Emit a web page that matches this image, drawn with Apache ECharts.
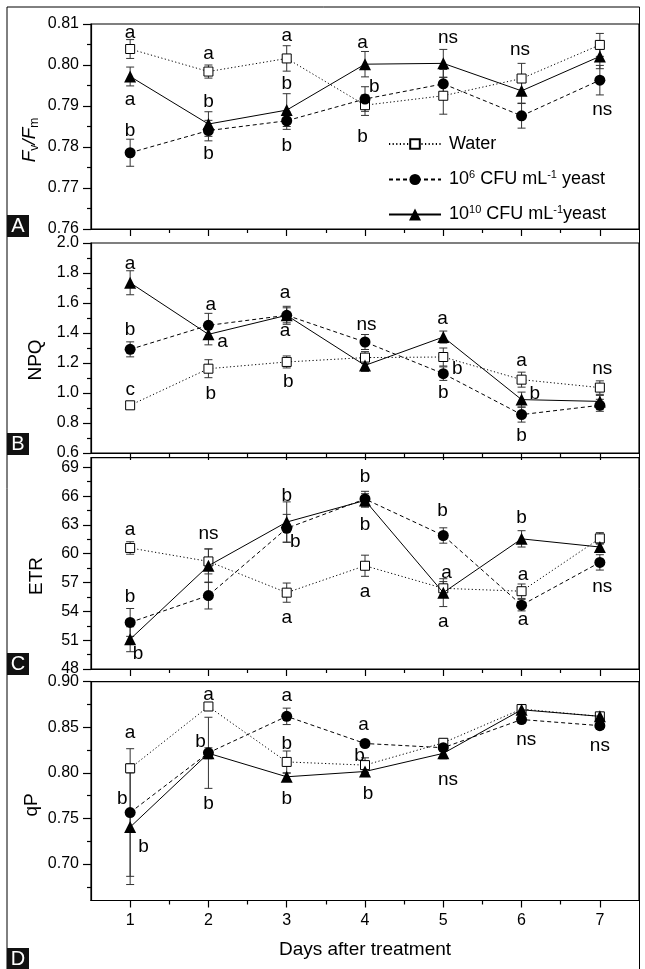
<!DOCTYPE html>
<html>
<head>
<meta charset="utf-8">
<script src="https://cdn.jsdelivr.net/npm/echarts@6/dist/echarts.min.js"></script>
<style>
html,body{margin:0;padding:0;background:#fff;}
#chart{width:645px;height:969px;}
</style>
</head>
<body>
<div id="chart"></div>
<script>
// ---------- data ----------
const days = [1, 2, 3, 4, 5, 6, 7];
const seriesNames = ['Water', '10^6 CFU mL^-1 yeast', '10^10 CFU mL^-1 yeast'];

// Panel A: Fv/Fm
const fvfmWater = [0.8039, 0.7984, 0.8016, 0.7902, 0.7925, 0.7967, 0.8049];
const fvfmWaterErr = [0.0023, 0.0016, 0.0031, 0.0025, 0.0045, 0.0037, 0.0028];
const fvfmY6 = [0.7786, 0.7840, 0.7864, 0.7917, 0.7954, 0.7876, 0.7963];
const fvfmY6Err = [0.0033, 0.0025, 0.0021, 0.0030, 0.0035, 0.0030, 0.0036];
const fvfmY10 = [0.7972, 0.7856, 0.7890, 0.8002, 0.8004, 0.7937, 0.8021];
const fvfmY10Err = [0.0023, 0.0030, 0.0040, 0.0031, 0.0034, 0.0030, 0.0030];

// Panel B: NPQ
const npqWater = [0.918, 1.162, 1.207, 1.236, 1.240, 1.089, 1.036];
const npqWaterErr = [0.02, 0.06, 0.04, 0.04, 0.06, 0.05, 0.045];
const npqY6 = [1.291, 1.451, 1.518, 1.340, 1.129, 0.856, 0.918];
const npqY6Err = [0.05, 0.08, 0.05, 0.05, 0.045, 0.05, 0.04];
const npqY10 = [1.735, 1.391, 1.518, 1.184, 1.373, 0.956, 0.944];
const npqY10Err = [0.08, 0.07, 0.06, 0.04, 0.04, 0.05, 0.04];

// Panel C: ETR
const etrWater = [60.6, 59.2, 55.95, 58.75, 56.4, 56.1, 61.6];
const etrWaterErr = [0.65, 1.3, 1.0, 1.1, 0.7, 0.75, 0.6];
const etrY6 = [52.85, 55.65, 62.65, 65.7, 61.9, 54.65, 59.1];
const etrY6Err = [1.45, 1.4, 1.45, 0.8, 0.8, 0.6, 0.8];
const etrY10 = [51.1, 58.75, 63.3, 65.55, 55.95, 61.55, 60.7];
const etrY10Err = [1.3, 1.75, 2.1, 0.7, 1.45, 0.85, 0.4];

// Panel D: qP
const qpWater = [0.805, 0.8728, 0.812, 0.8085, 0.833, 0.870, 0.862];
const qpWaterErr = [0.005, 0.003, 0.012, 0.008, 0.004, 0.005, 0.004];
const qpY6 = [0.7565, 0.822, 0.862, 0.8322, 0.8276, 0.8585, 0.8518];
const qpY6Err = [0.07, 0.039, 0.009, 0.003, 0.004, 0.004, 0.004];
const qpY10 = [0.7405, 0.8215, 0.7957, 0.8015, 0.8214, 0.8692, 0.862];
const qpY10Err = [0.063, 0.006, 0.004, 0.004, 0.006, 0.005, 0.004];

// tick labels
const dayTicks = [1, 2, 3, 4, 5, 6, 7];
const dayMinorTicks = [1.5, 2.5, 3.5, 4.5, 5.5, 6.5];
const fvfmTicks = [0.76, 0.77, 0.78, 0.79, 0.80, 0.81];
const fvfmMinor = [0.765, 0.775, 0.785, 0.795, 0.805];
const npqTicks = [0.6, 0.8, 1.0, 1.2, 1.4, 1.6, 1.8, 2.0];
const npqMinor = [0.7, 0.9, 1.1, 1.3, 1.5, 1.7, 1.9];
const etrTicks = [48, 51, 54, 57, 60, 63, 66, 69];
const etrMinor = [49.5, 52.5, 55.5, 58.5, 61.5, 64.5, 67.5];
const qpTicks = [0.70, 0.75, 0.80, 0.85, 0.90];
const qpMinor = [0.675, 0.725, 0.775, 0.825, 0.875];

// significance letters [day, value, text]
const annA = [[1,0.8079,'a'],[1,0.7916,'a'],[1,0.7840,'b'],[2,0.8028,'a'],[2,0.7911,'b'],[2,0.7783,'b'],
  [3,0.8071,'a'],[3,0.7955,'b'],[3,0.7802,'b'],[3.97,0.8054,'a'],[4.12,0.7946,'b'],[3.97,0.7825,'b'],
  [5.06,0.8067,'ns'],[5.98,0.8037,'ns'],[7.03,0.7890,'ns']];
const annB = [[1,1.862,'a'],[1,1.424,'b'],[1,1.022,'c'],[2.03,1.591,'a'],[2.18,1.340,'a'],[2.03,0.996,'b'],
  [2.98,1.667,'a'],[2.98,1.418,'a'],[3.02,1.073,'b'],[4.02,1.456,'ns'],[4.99,1.496,'a'],[5.18,1.162,'b'],
  [5.0,1.002,'b'],[6.0,1.218,'a'],[6.17,0.996,'b'],[6.0,0.718,'b'],[7.03,1.162,'ns']];
const annC = [[1,62.46,'a'],[1,55.53,'b'],[1.1,49.6,'b'],[2.0,62.1,'ns'],[3,66.0,'b'],[3.11,61.2,'b'],
  [3,53.35,'a'],[4,68.05,'b'],[4,63.05,'b'],[4,56.05,'a'],[4.99,64.45,'b'],[5.04,57.98,'a'],
  [5,52.9,'a'],[6,63.75,'b'],[6.02,57.8,'a'],[6.02,53.15,'a'],[7.03,56.6,'ns']];
const annD = [[1,0.8438,'a'],[0.9,0.7714,'b'],[1.17,0.719,'b'],[2,0.8855,'a'],[1.9,0.834,'b'],[2,0.766,'b'],
  [3,0.8848,'a'],[3,0.8319,'b'],[3,0.7714,'b'],[3.98,0.8529,'a'],[3.93,0.8185,'b'],[4.04,0.7776,'b'],
  [5.06,0.792,'ns'],[6.06,0.8366,'ns'],[7.0,0.8294,'ns']];

// ---------- build ----------
const FONT = '"Liberation Sans", Arial, Helvetica, sans-serif';
const panels = [
  {top: 24, height: 205, min: 0.76, max: 0.81, ticks: fvfmTicks, minor: fvfmMinor, dec: 2,
   data: [[fvfmWater, fvfmWaterErr], [fvfmY6, fvfmY6Err], [fvfmY10, fvfmY10Err]], ann: annA},
  {top: 243, height: 210, min: 0.6, max: 2.0, ticks: npqTicks, minor: npqMinor, dec: 1,
   data: [[npqWater, npqWaterErr], [npqY6, npqY6Err], [npqY10, npqY10Err]], ann: annB},
  {top: 457.7, height: 211.3, min: 48, max: 70, ticks: etrTicks, minor: etrMinor, dec: 0,
   data: [[etrWater, etrWaterErr], [etrY6, etrY6Err], [etrY10, etrY10Err]], ann: annC},
  {top: 681.7, height: 218.8, min: 0.66, max: 0.90, ticks: qpTicks, minor: qpMinor, dec: 2,
   data: [[qpWater, qpWaterErr], [qpY6, qpY6Err], [qpY10, qpY10Err]], ann: annD}
];

const styles = [
  {symbol: 'rect', size: 9, fill: '#fff', line: [1.2, 2.4]},
  {symbol: 'circle', size: 11, fill: '#000', line: [4, 3]},
  {symbol: 'triangle', size: 12, fill: '#000', line: 'solid'}
];

const grid = [], xAxis = [], yAxis = [], series = [];

function errRender(params, api) {
  const x = api.value(0), y = api.value(1), e = api.value(2);
  const t = api.coord([x, y + e]);
  const b = api.coord([x, y - e]);
  const w = 4;
  const st = {stroke: '#333', lineWidth: 1};
  return {type: 'group', children: [
    {type: 'line', shape: {x1: t[0], y1: t[1], x2: b[0], y2: b[1]}, style: st},
    {type: 'line', shape: {x1: t[0] - w, y1: t[1], x2: t[0] + w, y2: t[1]}, style: st},
    {type: 'line', shape: {x1: b[0] - w, y1: b[1], x2: b[0] + w, y2: b[1]}, style: st}
  ]};
}

panels.forEach((p, gi) => {
  grid.push({left: 91, right: 6, top: p.top, height: p.height, show: true,
    borderColor: '#000', borderWidth: 1.2, backgroundColor: 'transparent'});
  const isLast = gi === panels.length - 1;
  // major x
  xAxis.push({type: 'value', gridIndex: gi, min: 0.5, max: 7.5, position: 'bottom',
    axisLine: {show: true, onZero: false, lineStyle: {color: '#000', width: 1.2}},
    axisTick: {show: true, length: 7, customValues: dayTicks, lineStyle: {color: '#000', width: 1.2}},
    axisLabel: {show: isLast, customValues: dayTicks, margin: 12, color: '#000', fontSize: 16, fontFamily: FONT},
    splitLine: {show: false}});
  // minor x
  xAxis.push({type: 'value', gridIndex: gi, min: 0.5, max: 7.5, position: 'bottom',
    axisLine: {show: false, onZero: false},
    axisTick: {show: true, length: 4, customValues: dayMinorTicks, lineStyle: {color: '#000', width: 1.2}},
    axisLabel: {show: false}, splitLine: {show: false}});
  // major y
  yAxis.push({type: 'value', gridIndex: gi, min: p.min, max: p.max, position: 'left',
    axisLine: {show: true, onZero: false, lineStyle: {color: '#000', width: 1.2}},
    axisTick: {show: true, length: 8, customValues: p.ticks, lineStyle: {color: '#000', width: 1.2}},
    axisLabel: {show: true, customValues: p.ticks, margin: 12, color: '#000', fontSize: 16, fontFamily: FONT,
      formatter: v => Number(v).toFixed(p.dec)},
    splitLine: {show: false}});
  // minor y
  yAxis.push({type: 'value', gridIndex: gi, min: p.min, max: p.max, position: 'left', offset: 0,
    axisLine: {show: false, onZero: false},
    axisTick: {show: true, length: 4, customValues: p.minor, lineStyle: {color: '#000', width: 1.2}},
    axisLabel: {show: false}, splitLine: {show: false}});

  const xi = gi * 2, yi = gi * 2;
  p.data.forEach((d, si) => {
    const [vals, errs] = d;
    series.push({type: 'custom', name: seriesNames[si] + ' err', xAxisIndex: xi, yAxisIndex: yi,
      renderItem: errRender, encode: {x: 0, y: 1}, z: 1, silent: true,
      data: days.map((dd, i) => [dd, vals[i], errs[i]])});
  });
  p.data.forEach((d, si) => {
    const [vals] = d;
    const s = styles[si];
    series.push({type: 'line', name: seriesNames[si], xAxisIndex: xi, yAxisIndex: yi,
      data: days.map((dd, i) => [dd, vals[i]]),
      symbol: s.symbol, symbolSize: s.size, showAllSymbol: true, z: 3 + si,
      itemStyle: {color: s.fill, borderColor: '#000', borderWidth: si === 0 ? 1 : 0, opacity: 1},
      lineStyle: {color: '#000', width: 1, type: s.line}, silent: true});
  });
  series.push({type: 'scatter', name: 'letters' + gi, xAxisIndex: xi, yAxisIndex: yi,
    symbolSize: 1, itemStyle: {color: 'rgba(0,0,0,0)', opacity: 1}, silent: true, z: 10,
    label: {show: true, position: 'inside', formatter: '{b}', color: '#000', opacity: 1,
      textBorderWidth: 0, fontSize: 19, fontFamily: FONT},
    labelLayout: {hideOverlap: false},
    data: p.ann.map(a => ({name: a[2], value: [a[0], a[1]]}))});
});

const legendRich = {
  n: {fontSize: 18, fontFamily: FONT, color: '#000', padding: [0, 0, 0, 3]},
  t: {fontSize: 18, fontFamily: FONT, color: '#000'},
  sup: {fontSize: 11, fontFamily: FONT, color: '#000', padding: [0, 0, 10, 0]}
};
function legendFmt(name) {
  if (name === seriesNames[0]) return '{n|Water}';
  if (name === seriesNames[1]) return '{n|10}{sup|6}{t| CFU mL}{sup|-1}{t| yeast}';
  return '{n|10}{sup|10}{t| CFU mL}{sup|-1}{t|yeast}';
}
const legendTops = [147, 181, 216];
const legendItemH = [12, 14, 15];
const legend = seriesNames.map((n, i) => ({
  data: [n], left: 388, top: legendTops[i] - 12, orient: 'vertical', padding: 0,
  itemWidth: 52, itemHeight: legendItemH[i], selectedMode: false,
  formatter: legendFmt, textStyle: {rich: legendRich, fontSize: 18, fontFamily: FONT, color: '#000'}
}));

const yNames = [
  {x: 30, y: 140, text: '{i|F}{s|v}{i|/F}{s|m}'},
  {x: 36, y: 360, text: '{r|NPQ}'},
  {x: 37, y: 576, text: '{r|ETR}'},
  {x: 32, y: 805, text: '{r|qP}'}
];
const nameRich = {
  i: {fontSize: 19, fontStyle: 'italic', fontFamily: FONT, fill: '#000', verticalAlign: 'middle'},
  s: {fontSize: 12, fontFamily: FONT, fill: '#000', verticalAlign: 'middle', padding: [10, 0, 0, 0]},
  r: {fontSize: 19, fontFamily: FONT, fill: '#000', verticalAlign: 'middle'}
};
const graphic = [
  {type: 'rect', shape: {x: 7, y: 7, width: 632.5, height: 990}, style: {fill: 'none', stroke: '#000', lineWidth: 1}, silent: true}
];
yNames.forEach(n => graphic.push({type: 'text', x: n.x, y: n.y, rotation: Math.PI / 2, silent: true,
  style: {text: n.text, rich: nameRich, align: 'center', verticalAlign: 'middle', fill: '#000', fontFamily: FONT, fontSize: 19}}));
const panelLetters = [['A', 215], ['B', 433], ['C', 653], ['D', 948]];
panelLetters.forEach(([t, y]) => {
  graphic.push({type: 'rect', shape: {x: 7, y: y, width: 22, height: 22}, style: {fill: '#111'}, silent: true});
  graphic.push({type: 'text', x: 18, y: y + 11, silent: true,
    style: {text: t, fill: '#fff', fontSize: 20, fontFamily: FONT, align: 'center', verticalAlign: 'middle'}});
});
graphic.push({type: 'text', x: 365, y: 950, silent: true,
  style: {text: 'Days after treatment', fill: '#000', fontSize: 19, fontFamily: FONT, align: 'center', verticalAlign: 'middle'}});

const chart = echarts.init(document.getElementById('chart'), null, {renderer: 'canvas'});
chart.setOption({
  animation: false,
  backgroundColor: '#fff',
  grid, xAxis, yAxis, series, legend, graphic
});
</script>
</body>
</html>
